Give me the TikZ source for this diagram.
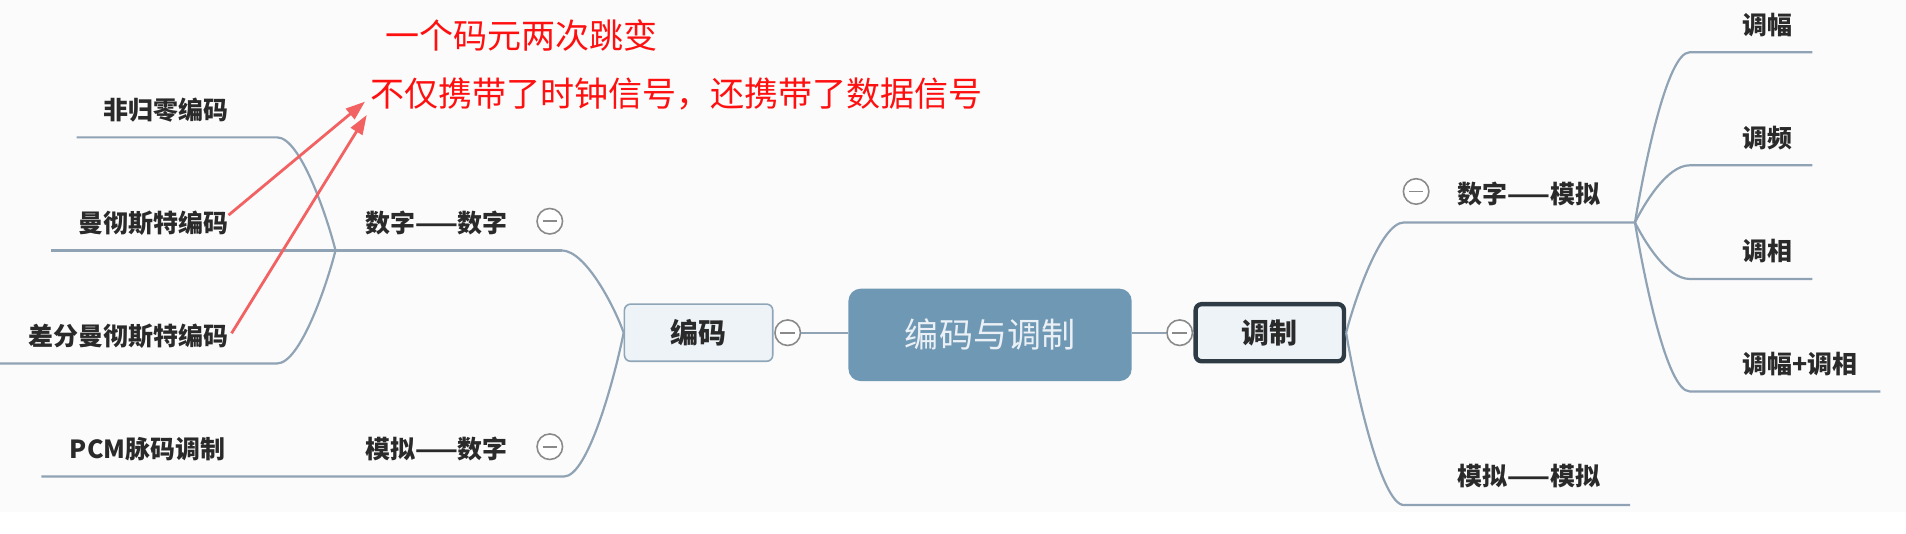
\documentclass[tikz,border=0pt]{standalone}
\usepackage{fontspec}
\newfontfamily\cjk{Noto Sans CJK SC}
\usetikzlibrary{arrows.meta}
\definecolor{bg}{HTML}{FBFBFB}
\definecolor{branch}{HTML}{8FA3B5}
\definecolor{rootfill}{HTML}{6E98B4}
\definecolor{roottext}{HTML}{EAF0F5}
\definecolor{subfill}{HTML}{EEF3F8}
\definecolor{subdraw}{HTML}{8FA5B8}
\definecolor{seldraw}{HTML}{2E3B45}
\definecolor{lbltext}{HTML}{2A2A2A}
\definecolor{collapse}{HTML}{8A8A8A}
\definecolor{annot}{HTML}{FF1010}
\definecolor{arrowred}{HTML}{F26262}
\tikzset{
  x=1pt, y=-1pt,
  root/.style={fill=rootfill, rounded corners=10pt, minimum width=233pt, minimum height=76pt,
    text=roottext, font=\cjk\fontsize{28}{30}\selectfont, inner sep=0pt},
  subbox/.style={fill=subfill, draw=subdraw, line width=1.3pt, rounded corners=5pt,
    minimum width=122pt, minimum height=47pt, text=lbltext, font=\cjk\bfseries\fontsize{23}{25}\selectfont, inner sep=0pt},
  selbox/.style={subbox, draw=seldraw, line width=3.6pt, minimum width=122pt, minimum height=47pt},
  lbl/.style={text=lbltext, font=\cjk\bfseries\fontsize{20.5}{22}\selectfont, inner sep=0pt},
  collapsebtn/.style={circle, fill=white, draw=collapse, line width=1.3pt, minimum size=21pt, inner sep=0pt},
  minusbar/.style={draw=collapse, line width=1.4pt},
  br/.style={draw=branch, line width=1.8pt},
  annottext/.style={text=annot, font=\cjk\fontsize{28}{30}\selectfont, inner sep=0pt},
  redarrow/.style={draw=arrowred, line width=2.3pt, -{Triangle[length=16pt, width=11pt]}},
}
\begin{document}
\begin{tikzpicture}
\fill[bg] (0,0) rectangle (1568,438.5);
\fill[white] (0,421) rectangle (1568,438.5);
\useasboundingbox (0,0) rectangle (1568,438.5);

% main nodes
\node[root] (root) at (814.5,275.5) {编码与调制};
\node[subbox] (bm) at (574.7,273.7) {编码};
\node[selbox] (tz) at (1044.6,273.7) {调制};
\node[collapsebtn] (cb1) at (648,273.7) {};
\node[collapsebtn] (cb2) at (970.5,273.7) {};
\draw[br] (bm.east) -- (cb1.west);
\draw[br] (cb1.east) -- (cb1.east -| root.west);
\draw[br] (cb2.west -| root.east) -- (cb2.west);
\draw[br] (cb2.east) -- (tz.west);

% ---------- left side ----------
\coordinate (sdEnd) at (462,206);
\coordinate (jL) at (276,206);
\coordinate (mcStart) at (42,206);
\coordinate (fgEnd) at (228,113);
\coordinate (fgStart) at (63,113);
\coordinate (cfEnd) at (228,299);
\coordinate (cfStart) at (0,299);
\coordinate (mnEnd) at (464,392);
\coordinate (mnStart) at (34,392);

\draw[br] (bm.west) .. controls +(-7,-20) and +(20,0) .. (sdEnd);
\draw[br] (sdEnd) -- (jL) -- (mcStart);
\draw[br] (jL) .. controls +(-7,-28) and +(19,0) .. (fgEnd) -- (fgStart);
\draw[br] (jL) .. controls +(-7,28) and +(19,0) .. (cfEnd) -- (cfStart);
\draw[br] (bm.west) .. controls +(-7,35) and +(20,0) .. (mnEnd) -- (mnStart);

\node[lbl, anchor=east] (fgl) at (188,91) {非归零编码};
\node[lbl, anchor=east] (mcl) at (188,183.5) {曼彻斯特编码};
\node[lbl, anchor=east] (cfl) at (188,276.5) {差分曼彻斯特编码};
\node[lbl, anchor=east] (pcm) at (185.5,369.5) {PCM脉码调制};
\node[lbl] (sds) at (359,183.5) {数字——数字};
\node[lbl] (mns) at (359,369.5) {模拟——数字};
\node[collapsebtn] (cb3) at (452.3,182) {};
\node[collapsebtn] (cb4) at (452.3,367.5) {};

% ---------- right side ----------
\coordinate (smStart) at (1155,183);
\coordinate (jR) at (1345,183);
\coordinate (mmStart) at (1155,415.5);
\coordinate (mmEnd) at (1341,415.5);
\coordinate (a1) at (1390,43);   \coordinate (a1e) at (1491,43);
\coordinate (a2) at (1390,136);  \coordinate (a2e) at (1491,136);
\coordinate (a3) at (1390,229.5);\coordinate (a3e) at (1491,229.5);
\coordinate (a4) at (1390,322);  \coordinate (a4e) at (1547,322);

\draw[br] (tz.east) .. controls +(7,-27) and +(-19,0) .. (smStart) -- (jR);
\draw[br] (tz.east) .. controls +(7,42) and +(-19,0) .. (mmStart) -- (mmEnd);
\draw[br] (jR) .. controls +(7,-42) and +(-19,0) .. (a1) -- (a1e);
\draw[br] (jR) .. controls +(7,-14) and +(-19,0) .. (a2) -- (a2e);
\draw[br] (jR) .. controls +(7,14) and +(-19,0) .. (a3) -- (a3e);
\draw[br] (jR) .. controls +(7,42) and +(-19,0) .. (a4) -- (a4e);

\node[lbl] (smt) at (1258,159.5) {数字——模拟};
\node[lbl] (mmt) at (1258,392) {模拟——模拟};
\node[collapsebtn] (cb5) at (1165,157.5) {};
\node[lbl, anchor=west] (tf) at (1433,20.5) {调幅};
\node[lbl, anchor=west] (tp) at (1433,113.5) {调频};
\node[lbl, anchor=west] (tx) at (1433,206.5) {调相};
\node[lbl, anchor=west] (tfx) at (1433,299.5) {调幅+调相};

% collapse minus bars
\foreach \c in {cb1,cb2,cb3,cb4,cb5}{
  \draw[minusbar] ([xshift=-6pt]\c.center) -- ([xshift=6pt]\c.center);
}

% ---------- red annotations ----------
\node[annottext] (n1) at (429,29.5) {一个码元两次跳变};
\node[annottext, anchor=west] (n2) at (304.5,77) {不仅携带了时钟信号，还携带了数据信号};
\coordinate (tip1) at (300.3,83.6);
\coordinate (tip2) at (301.7,94.6);
\draw[redarrow] (mcl.east) ++(0,-6.5) -- (tip1);
\draw[redarrow] (cfl.east) ++(2.5,-2.3) -- (tip2);
\end{tikzpicture}
\end{document}
